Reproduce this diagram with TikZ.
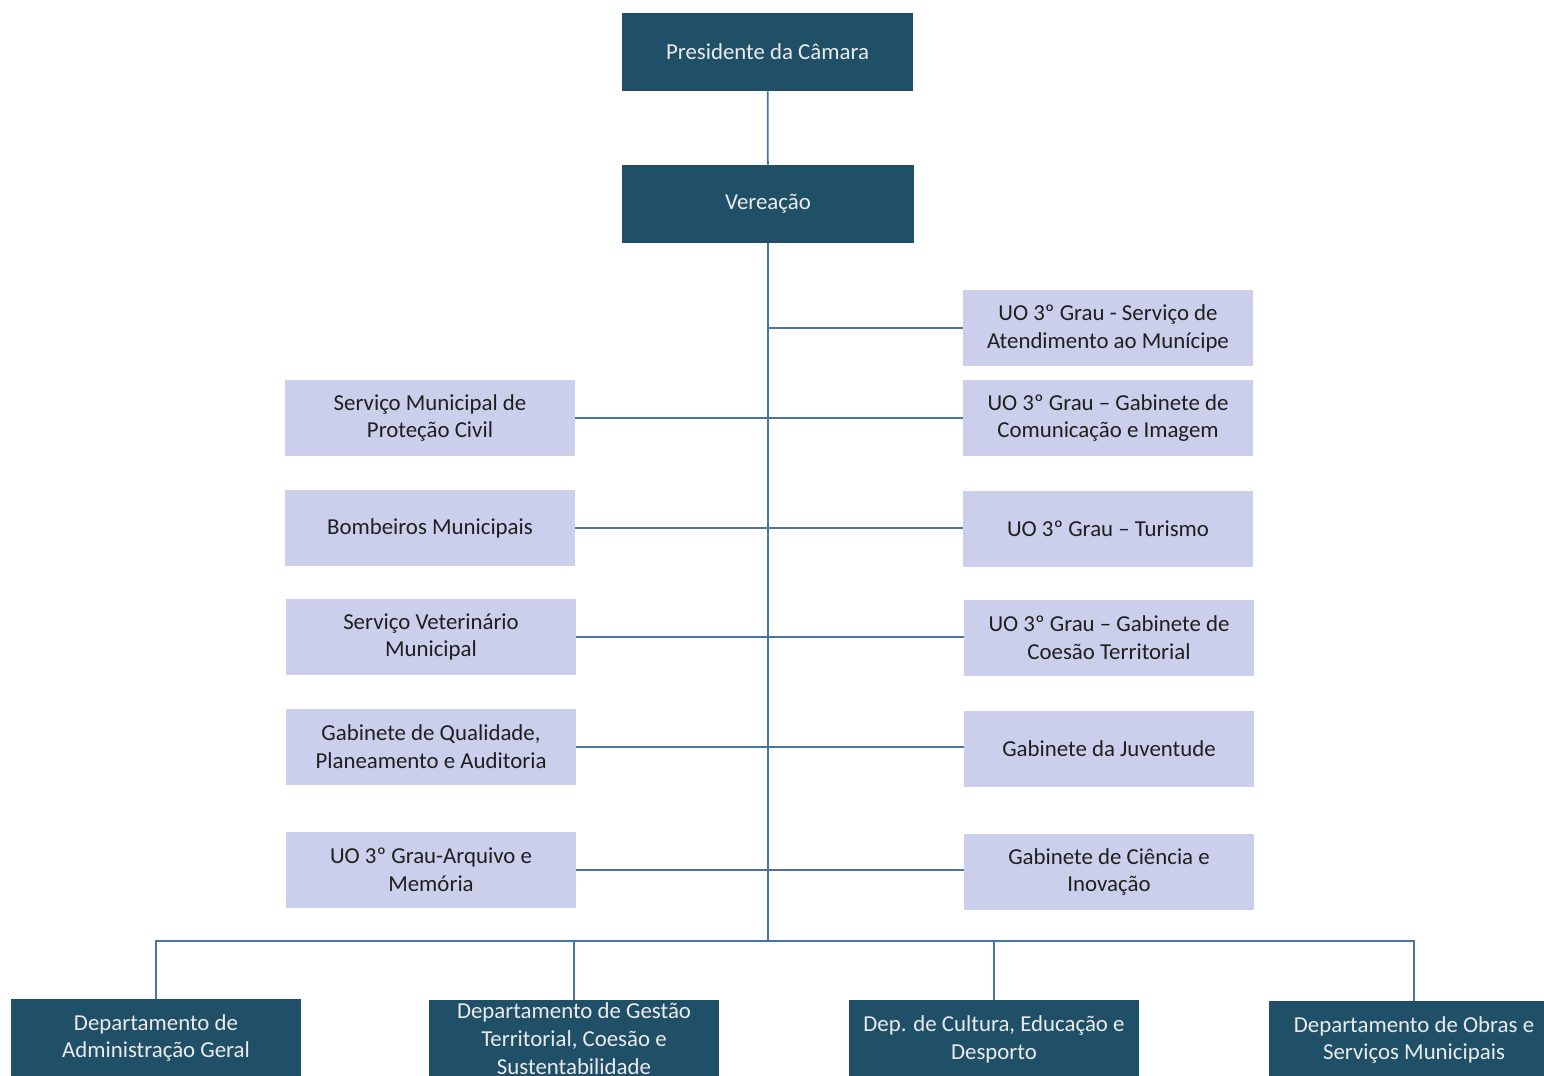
\documentclass[tikz,border=0pt]{standalone}
\usepackage{fontspec}
\setmainfont{Carlito}
\usetikzlibrary{calc}
\definecolor{chefe}{RGB}{32,80,104}
\definecolor{unidade}{RGB}{203,207,236}
\definecolor{ligacao}{RGB}{74,116,164}
\tikzset{
  topo/.style={fill=chefe,text=white!92!black,minimum width=5.84cm,minimum height=1.56cm,inner ysep=1pt,align=center,font=\fontsize{13}{15.9}\selectfont},
  unid/.style={fill=unidade,text=black!88,minimum width=5.8cm,minimum height=1.52cm,inner ysep=1pt,align=center,font=\fontsize{13}{15.9}\selectfont},
  dept/.style={fill=chefe,text=white!92!black,minimum width=5.8cm,minimum height=1.56cm,inner ysep=1pt,align=center,font=\fontsize{13}{15.9}\selectfont},
  liga/.style={draw=ligacao,line width=1pt}
}

\begin{document}
\begin{tikzpicture}[x=0.02cm,y=-0.02cm]
  \useasboundingbox (0,0) rectangle (1544,1075);
  \node[topo] (pres) at (767.5,52) {Presidente da Câmara};
  \node[topo] (ver) at (768,204) {Vereação};
  % coluna da direita
  \node[unid] (r1) at (1108,328) {UO 3º Grau - Serviço de\\Atendimento ao Munícipe};
  \node[unid] (r2) at (1108,418) {UO 3º Grau – Gabinete de\\Comunicação e Imagem};
  \node[unid] (r3) at (1108,529) {UO 3º Grau – Turismo};
  \node[unid] (r4) at (1109,638) {UO 3º Grau – Gabinete de\\Coesão Territorial};
  \node[unid] (r5) at (1109,749) {Gabinete da Juventude};
  \node[unid] (r6) at (1109,872) {Gabinete de Ciência e\\Inovação};
  % coluna da esquerda
  \node[unid] (l1) at (430,418) {Serviço Municipal de\\Proteção Civil};
  \node[unid] (l2) at (430,528) {Bombeiros Municipais};
  \node[unid] (l3) at (431,637) {Serviço Veterinário\\Municipal};
  \node[unid] (l4) at (431,747) {Gabinete de Qualidade,\\Planeamento e Auditoria};
  \node[unid] (l5) at (431,870) {UO 3º Grau-Arquivo e\\Memória};
  % departamentos
  \node[dept] (b1) at (156,1038) {Departamento de\\Administração Geral};
  \node[dept] (b2) at (574,1039) {Departamento de Gestão\\Territorial, Coesão e\\Sustentabilidade};
  \node[dept] (b3) at (994,1039) {Dep. de Cultura, Educação e\\Desporto};
  \node[dept] (b4) at (1414,1040) {Departamento de Obras e\\Serviços Municipais};
  \coordinate (bus) at (768,941);
  \path[liga]
    (pres) edge (ver)
    (ver) edge (bus)
    (ver.south |- r1.west) edge (r1.west)
    (l1.east) edge (l1.east -| r2.west)
    (l2.east) edge (l2.east -| r3.west)
    (l3.east) edge (l3.east -| r4.west)
    (l4.east) edge (l4.east -| r5.west)
    (l5.east) edge (l5.east -| r6.west)
    (b2.north) edge (b2.north |- bus)
    (b3.north) edge (b3.north |- bus);
  \draw[liga] (b1.north) |- (bus) -| (b4.north);
\end{tikzpicture}
\end{document}
